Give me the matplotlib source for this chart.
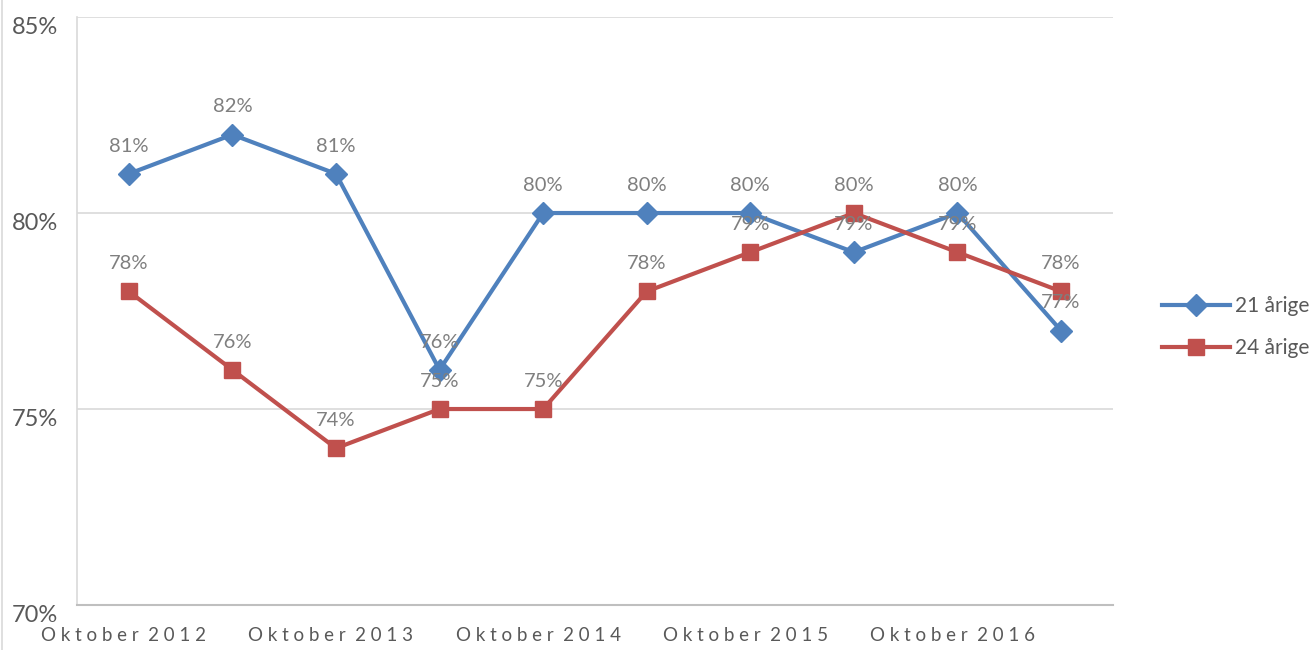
import matplotlib.pyplot as plt
import matplotlib.transforms as mtransforms
from matplotlib.lines import Line2D

plt.rcParams['font.family'] = ['Lato', 'DejaVu Sans']

periods = ['Oktober 2012', '', 'Oktober 2013', '', 'Oktober 2014', '',
           'Oktober 2015', '', 'Oktober 2016', '']
aarige_21 = [81, 82, 81, 76, 80, 80, 80, 79, 80, 77]
aarige_24 = [78, 76, 74, 75, 75, 78, 79, 80, 79, 78]
series_names = ['21 årige', '24 årige']

blue = '#4F81BD'
red = '#C0504D'
label_grey = '#7F7F7F'
text_grey = '#595959'


def spaced(s):
    # the original axis text is letter-spaced
    return '  '.join(' '.join(w) for w in s.split(' '))


fig = plt.figure(figsize=(13.12, 6.5), dpi=100)
ax = fig.add_axes([0.0587, 0.0692, 0.7895, 0.9046])

x = list(range(len(periods)))
ax.plot(x, aarige_21, color=blue, lw=3.0, marker='D', markersize=11,
        markeredgecolor=blue, zorder=3)
ax.plot(x, aarige_24, color=red, lw=3.0, marker='s', markersize=11,
        markeredgecolor=red, zorder=3)

for xi, v in zip(x, aarige_21):
    ax.annotate(f'{v}%', (xi, v), xytext=(0, 20), textcoords='offset points',
                ha='center', va='center', fontsize=14.5, color=label_grey, zorder=4)
for xi, v in zip(x, aarige_24):
    ax.annotate(f'{v}%', (xi, v), xytext=(0, 20), textcoords='offset points',
                ha='center', va='center', fontsize=14.5, color=label_grey, zorder=4)

ax.set_xlim(-0.5, 9.5)
ax.set_ylim(70, 85)
ax.set_yticks([70, 75, 80, 85])
ax.set_yticklabels(['70%', '75%', '80%', '85%'])
ax.yaxis.grid(True, color='#D9D9D9', lw=1.2)
ax.set_axisbelow(True)

tick_pos = [i for i, p in enumerate(periods) if p]
ax.set_xticks(tick_pos)
ax.set_xticklabels([spaced(periods[i]) for i in tick_pos])

ax.tick_params(axis='x', length=0, pad=16, labelsize=13.5, labelcolor=text_grey)
ax.tick_params(axis='y', length=0, pad=47, labelsize=17, labelcolor=text_grey)
for lbl in ax.get_yticklabels():
    lbl.set_horizontalalignment('left')
    lbl.set_verticalalignment('top')

shift = mtransforms.ScaledTranslation(-5 / 100, 0, fig.dpi_scale_trans)
for lbl in ax.get_xticklabels():
    lbl.set_transform(lbl.get_transform() + shift)

for side in ['top', 'right']:
    ax.spines[side].set_visible(False)
ax.spines['left'].set_color('#D9D9D9')
ax.spines['bottom'].set_color('#BFBFBF')
ax.spines['left'].set_linewidth(1.2)
ax.spines['bottom'].set_linewidth(1.5)

handles = [Line2D([], [], color=blue, lw=3.0, marker='D', markersize=11),
           Line2D([], [], color=red, lw=3.0, marker='s', markersize=11)]
fig.legend(handles, series_names, loc='center left', bbox_to_anchor=(0.871, 0.497),
           frameon=False, fontsize=15, labelcolor=text_grey,
           handlelength=3.3, handletextpad=0.25, labelspacing=1.05)

fig.add_artist(Line2D([0.0015, 0.0015], [0, 1], color='#D9D9D9', lw=1.2,
                      transform=fig.transFigure))

fig.savefig('out.png', dpi=100)
